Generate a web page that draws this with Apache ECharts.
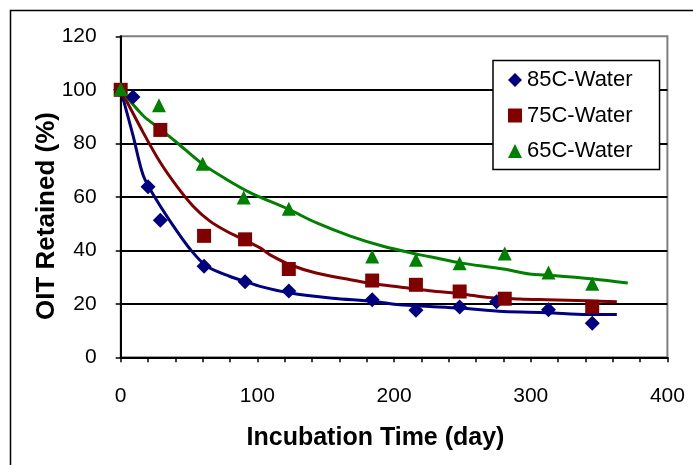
<!DOCTYPE html>
<html>
<head>
<meta charset="utf-8">
<script src="https://cdn.jsdelivr.net/npm/echarts@6/dist/echarts.min.js"></script>
<style>
html,body{margin:0;padding:0;background:#fff;}
#chart{width:693px;height:465px;}
</style>
</head>
<body>
<div id="chart"></div>
<script>
// Measured points
const days85 = [0, 9, 20, 29, 61, 91, 123, 184, 216, 248, 275, 313, 345];
const oit85  = [100, 97.3, 63.8, 51.2, 34.0, 28.2, 24.8, 21.5, 17.6, 18.8, 20.8, 17.8, 12.7];
const days75 = [0, 29, 61, 91, 123, 184, 216, 248, 281, 345];
const oit75  = [100, 85.0, 45.4, 44.1, 33.0, 28.7, 27.1, 24.6, 21.9, 18.9];
const days65 = [0, 28, 60, 90, 123, 184, 216, 248, 281, 313, 345];
const oit65  = [100.3, 94.2, 72.4, 59.7, 55.5, 37.7, 36.5, 35.2, 38.8, 31.7, 27.5];

// Fitted trend curves
const fitDays85 = [0, 9, 16.5, 26, 40, 51, 63, 80, 92, 102, 124, 155, 185, 204, 226, 248, 280, 312, 341, 363];
const fitVals85 = [100, 83, 68, 59, 48, 40.3, 34, 30.2, 28.2, 26.5, 24, 22.1, 20.9, 19.6, 19, 18.4, 17.1, 16.7, 16, 16];
const fitDays75 = [0, 16.5, 29, 41, 53, 65, 77.5, 90, 102, 109, 124, 143, 168, 185, 204, 226, 251, 268, 292, 312, 341, 363];
const fitVals75 = [100, 84, 72.8, 64, 56.5, 51, 47.1, 44, 40.9, 38.4, 34.6, 31.5, 29, 27.5, 26.3, 24.9, 23.6, 22.4, 21.8, 21.5, 21.1, 20.8];
const fitDays65 = [0, 16.5, 29, 41, 60, 77.5, 95, 123, 143, 168, 192, 219, 231, 248, 280, 299, 316, 346, 371];
const fitVals65 = [100, 90.3, 85.3, 80.3, 72.2, 66.5, 61.5, 55.3, 50.3, 45.3, 41.5, 38.3, 37.1, 35.3, 33, 31.1, 30.6, 29.3, 27.8];

const yTicks = [0, 20, 40, 60, 80, 100, 120];
const xTickLabels = [0, 100, 200, 300, 400];

const seriesNames = ['85C-Water', '75C-Water', '65C-Water'];
const xTitle = 'Incubation Time (day)';
const yTitle = 'OIT Retained (%)';

const zip = (a, b) => a.map((v, i) => [v, b[i]]);
const FONT = '"Liberation Sans", Arial, sans-serif';

const chart = echarts.init(document.getElementById('chart'), null, {renderer: 'canvas'});
chart.setOption({
  animation: false,
  backgroundColor: '#fff',
  grid: {
    left: 120.7, top: 36.3, right: 693 - 667.4, bottom: 465 - 357.3,
    show: true, borderColor: '#808080', borderWidth: 2, backgroundColor: 'transparent'
  },
  xAxis: {
    type: 'value', min: 0, max: 400, interval: 20,
    axisLine: {show: true, onZero: false, lineStyle: {color: '#000', width: 2}},
    axisTick: {show: true, length: 5, lineStyle: {color: '#000', width: 1.5}},
    splitLine: {show: false},
    axisLabel: {
      color: '#000', fontFamily: FONT, fontSize: 21, margin: 28,
      formatter: v => (xTickLabels.indexOf(v) >= 0 ? String(v) : '')
    }
  },
  yAxis: {
    type: 'value', min: yTicks[0], max: yTicks[yTicks.length - 1], interval: 20,
    axisLine: {show: true, onZero: false, lineStyle: {color: '#000', width: 2}},
    axisTick: {show: true, length: 5, lineStyle: {color: '#000', width: 1.5}},
    splitLine: {show: true, showMinLine: false, showMaxLine: false, lineStyle: {color: '#000', width: 2}},
    axisLabel: {color: '#000', fontFamily: FONT, fontSize: 21, margin: 24}
  },
  legend: {
    data: seriesNames,
    orient: 'vertical',
    left: 493, top: 60.5,
    padding: [8.5, 27, 7.5, 15],
    itemGap: 13.5,
    itemWidth: 14, itemHeight: 14,
    itemStyle: {borderWidth: 0},
    backgroundColor: '#fff',
    borderColor: '#000', borderWidth: 1.5,
    textStyle: {color: '#000', fontFamily: FONT, fontSize: 22},
    z: 10
  },
  graphic: [
    {type: 'rect', shape: {x: 10.5, y: 10.5, width: 800, height: 600}, style: {fill: 'none', stroke: '#000', lineWidth: 1.5}, silent: true, z: -10},
    {type: 'text', x: 375.5, y: 438, style: {text: xTitle, font: 'bold 25px ' + FONT, fill: '#000', align: 'center', verticalAlign: 'middle'}},
    {type: 'text', x: 47, y: 216, rotation: Math.PI / 2, style: {text: yTitle, font: 'bold 26px ' + FONT, fill: '#000', align: 'center', verticalAlign: 'middle'}}
  ],
  series: [
    {type: 'line', name: 'fit85', data: zip(fitDays85, fitVals85), smooth: 0.3, showSymbol: false, symbol: 'none',
     lineStyle: {color: '#000080', width: 3}, z: 2, silent: true},
    {type: 'line', name: 'fit75', data: zip(fitDays75, fitVals75), smooth: 0.3, showSymbol: false, symbol: 'none',
     lineStyle: {color: '#800000', width: 3}, z: 2, silent: true},
    {type: 'line', name: 'fit65', data: zip(fitDays65, fitVals65), smooth: 0.3, showSymbol: false, symbol: 'none',
     lineStyle: {color: '#008000', width: 3}, z: 2, silent: true},
    {type: 'scatter', name: seriesNames[0], data: zip(days85, oit85), symbol: 'diamond', symbolSize: 15,
     itemStyle: {color: '#000080', opacity: 1}, z: 3},
    {type: 'scatter', name: seriesNames[1], data: zip(days75, oit75), symbol: 'rect', symbolSize: 14,
     itemStyle: {color: '#800000', opacity: 1}, z: 4},
    {type: 'scatter', name: seriesNames[2], data: zip(days65, oit65), symbol: 'triangle', symbolSize: 14,
     itemStyle: {color: '#008000', opacity: 1}, z: 5}
  ]
});
</script>
</body>
</html>
